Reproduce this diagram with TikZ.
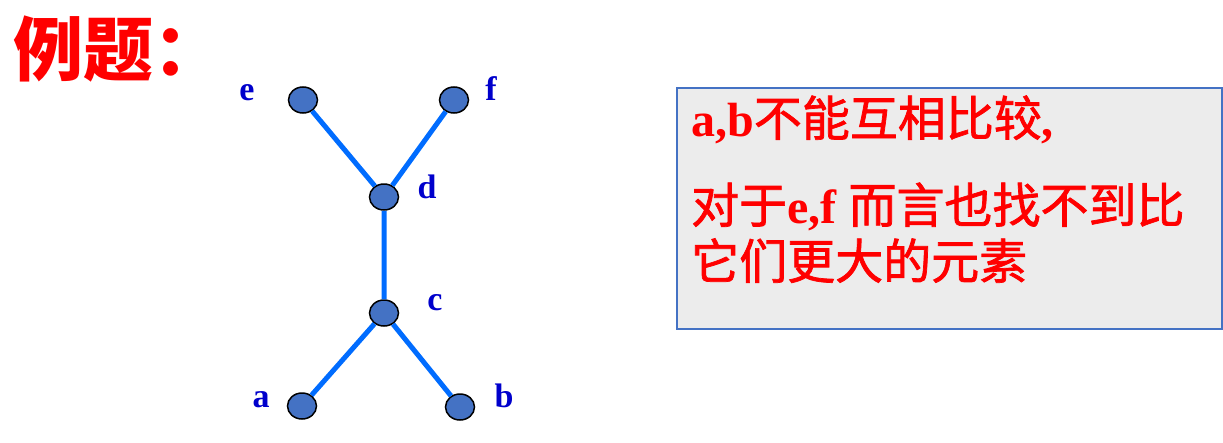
\documentclass[tikz,border=0pt]{standalone}
\usepackage{fontspec}
\setmainfont{Liberation Serif}
\newfontfamily\zhfont{Noto Sans CJK SC}[UprightFeatures={FakeBold=1.5}]
\newfontfamily\zhtitle{Noto Sans CJK SC}
\usetikzlibrary{shapes.geometric}
\definecolor{nodeblue}{RGB}{68,114,196}
\definecolor{linkblue}{RGB}{0,108,255}
\definecolor{labblue}{RGB}{0,0,204}
\definecolor{boxgray}{RGB}{236,236,236}
\newcommand{\zh}[1]{{\zhfont\mdseries #1}}

\begin{document}
\begin{tikzpicture}[x=1pt,y=-1pt,
  vtx/.style={ellipse,draw=black,line width=1.5pt,fill=nodeblue,minimum width=29pt,minimum height=26pt,inner sep=0pt},
  lab/.style={anchor=base,inner sep=0pt,text=labblue,font=\fontsize{34}{40}\selectfont\bfseries},
  link/.style={draw=linkblue,line width=5pt},
  note/.style={anchor=base west,inner sep=0pt,text=red,font=\fontsize{48}{56}\selectfont\bfseries}]
\useasboundingbox (0,0) rectangle (1223,442);
\node[anchor=base west,inner sep=0pt,text=red,font=\zhtitle\bfseries\fontsize{70}{80}\selectfont] (title) at (13,75) {例题：};
\node[vtx] (e) at (303,100) {};
\node[vtx] (f) at (454,100) {};
\node[vtx] (d) at (384,197) {};
\node[vtx] (c) at (384,313) {};
\node[vtx] (a) at (302,406) {};
\node[vtx] (b) at (460,407) {};
\draw[link] (e) -- (d) (f) -- (d) (d) -- (c) (c) -- (a) (c) -- (b);
\node[lab] (le) at (247,100) {e};
\node[lab] (lf) at (491,100) {f};
\node[lab] (ld) at (427,198) {d};
\node[lab] (lc) at (435,310) {c};
\node[lab] (la) at (261,407) {a};
\node[lab] (lb) at (504,407) {b};
\node[draw=nodeblue,line width=2pt,fill=boxgray,anchor=north west,minimum width=545pt,minimum height=241pt] (box) at (676,87) {};
\node[note] (t1) at (691,136) {a,b\zh{不能互相比较},};
\node[note] (t2) at (691,223) {\zh{对于}e,f \zh{而言也找不到比}};
\node[note] (t3) at (691,279) {\zh{它们更大的元素}};
\end{tikzpicture}
\end{document}
